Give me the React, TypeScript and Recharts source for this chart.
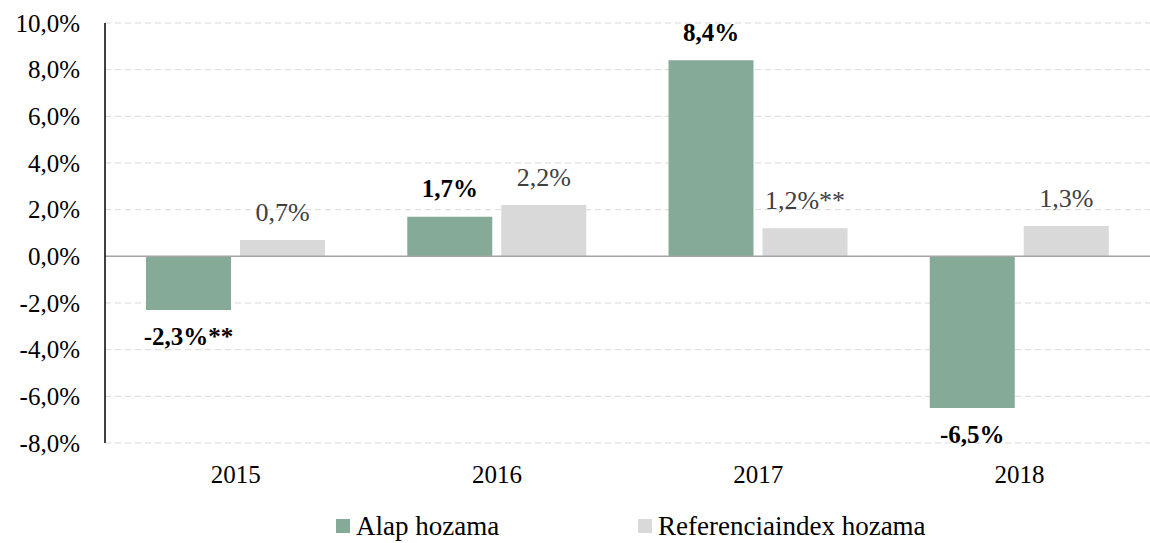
import React from 'react';
import { BarChart, Bar, XAxis, YAxis, CartesianGrid, Legend, ReferenceLine, LabelList } from 'recharts';

const years = ['2015', '2016', '2017', '2018'];
const alapHozama = [-2.3, 1.7, 8.4, -6.5];
const referenciaHozama = [0.7, 2.2, 1.2, 1.3];
const alapLabels = ['-2,3%**', '1,7%', '8,4%', '-6,5%'];
const referenciaLabels = ['0,7%', '2,2%', '1,2%**', '1,3%'];
const yTicks = [-8, -6, -4, -2, 0, 2, 4, 6, 8, 10];

const GREEN = '#86aa98';
const GRAY = '#d9d9d9';
const FONT = "'Liberation Serif', 'Times New Roman', serif";

const chartData = years.map((year, i) => ({
  year,
  alap: alapHozama[i],
  referencia: referenciaHozama[i],
}));

const fmtPct = (v: number) => `${v.toFixed(1).replace('.', ',')}%`;

const makeLabel = (texts: string[], bold: boolean, color: string) => (props: any) => {
  const { x, y, width, height, value, index } = props;
  const top = Math.min(y, y + height);
  const bottom = Math.max(y, y + height);
  const ly = value < 0 ? bottom + 26 : top - 28;
  return (
    <text
      x={x + width / 2}
      y={ly}
      textAnchor="middle"
      dominantBaseline="central"
      style={{ fontFamily: FONT }}
      fontSize={bold ? 25 : 26}
      fontWeight={bold ? 'bold' : 'normal'}
      fill={color}
    >
      {texts[index]}
    </text>
  );
};

const YTick = (props: any) => {
  const { x, y, payload } = props;
  return (
    <text x={x} y={y} textAnchor="end" dominantBaseline="central" style={{ fontFamily: FONT }} fontSize={25} fill="#000">
      {fmtPct(payload.value)}
    </text>
  );
};

const XTick = (props: any) => {
  const { x, y, payload } = props;
  return (
    <text x={x} y={y} textAnchor="middle" dominantBaseline="hanging" style={{ fontFamily: FONT }} fontSize={25} fill="#000">
      {payload.value}
    </text>
  );
};

const legendItems = [
  { name: 'Alap hozama', color: GREEN, left: 336 },
  { name: 'Referenciaindex hozama', color: GRAY, left: 638 },
];

const LegendContent = () => (
  <div style={{ position: 'relative', width: 1150, height: 30, fontFamily: FONT, fontSize: 27, color: '#000' }}>
    {legendItems.map(item => (
      <div key={item.name} style={{ position: 'absolute', left: item.left, top: 0, height: 30, display: 'flex', alignItems: 'center', whiteSpace: 'nowrap' }}>
        <span style={{ display: 'inline-block', width: 14, height: 14, background: item.color, marginRight: 6 }} />
        <span style={{ fontFamily: FONT, lineHeight: '30px' }}>{item.name}</span>
      </div>
    ))}
  </div>
);

export default function App() {
  return (
    <div style={{ position: 'absolute', left: 0, top: 0, background: '#fff', fontFamily: FONT }}>
      <BarChart
        width={1150}
        height={543}
        data={chartData}
        margin={{ top: 23, right: 0, left: 0, bottom: 20 }}
        barCategoryGap="15.7%"
        barGap={9}
        style={{ fontFamily: FONT }}
      >
        <CartesianGrid vertical={false} stroke="#d9d9d9" strokeDasharray="6 4" />
        <XAxis
          dataKey="year"
          axisLine={false}
          tickLine={false}
          tickSize={0}
          tickMargin={22}
          height={50}
          tick={<XTick />}
        />
        <YAxis
          domain={[-8, 10]}
          ticks={yTicks}
          interval={0}
          width={105}
          tickLine={false}
          tickSize={0}
          tickMargin={25}
          axisLine={{ stroke: '#000', strokeWidth: 1.5 }}
          tick={<YTick />}
        />
        <ReferenceLine y={0} stroke="#a6a6a6" strokeWidth={1.5} />
        <Legend verticalAlign="bottom" height={30} wrapperStyle={{ left: 0, bottom: 2, width: 1150 }} content={<LegendContent />} />
        <Bar dataKey="alap" name="Alap hozama" fill={GREEN} isAnimationActive={false}>
          <LabelList dataKey="alap" content={makeLabel(alapLabels, true, '#000')} />
        </Bar>
        <Bar dataKey="referencia" name="Referenciaindex hozama" fill={GRAY} isAnimationActive={false}>
          <LabelList dataKey="referencia" content={makeLabel(referenciaLabels, false, '#404040')} />
        </Bar>
      </BarChart>
    </div>
  );
}
